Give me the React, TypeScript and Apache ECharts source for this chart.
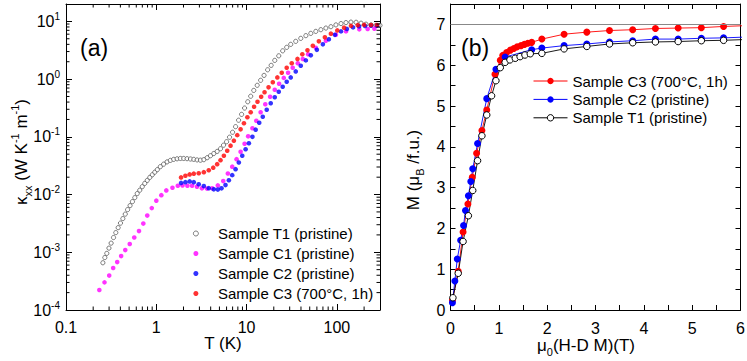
import React, { useEffect, useRef } from 'react';
import * as echarts from 'echarts';

// ---------- names ----------
const NAME_T1 = 'Sample T1 (pristine)';
const NAME_C1 = 'Sample C1 (pristine)';
const NAME_C2 = 'Sample C2 (pristine)';
const NAME_C3 = 'Sample C3 (700°C, 1h)';
const B_SUFFIX = ' [b]';

// ---------- tick labels ----------
const X_LOG_TICK_LABELS = ['0.1', '1', '10', '100'];
const Y_LOG_TICK_EXPONENTS = ['-4', '-3', '-2', '-1', '0', '1'];
const X_LIN_TICK_LABELS = ['0', '1', '2', '3', '4', '5', '6'];
const Y_LIN_TICK_LABELS = ['0', '1', '2', '3', '4', '5', '6', '7'];

// ---------- panel (a): thermal conductivity ----------
const T1_T = [0.256, 0.269, 0.283, 0.299, 0.316, 0.336, 0.356, 0.378, 0.401, 0.426, 0.453, 0.481, 0.512, 0.544, 0.578, 0.615, 0.656, 0.699, 0.745, 0.794, 0.847, 0.903, 0.962, 1.026, 1.107, 1.205, 1.315, 1.431, 1.557, 1.698, 1.849, 2.01, 2.19, 2.39, 2.6, 2.83, 3.08, 3.36, 3.66, 3.98, 4.33, 4.72, 5.14, 5.55, 6.0, 6.47, 6.99, 7.55, 8.15, 8.8, 9.5, 10.3, 11.1, 12.0, 13.1, 14.3, 15.6, 17.1, 18.7, 20.5, 22.7, 25.1, 27.8, 30.8, 35.0, 39.8, 45.3, 51.4, 58.4, 66.4, 75.5, 85.8, 97.5, 111, 126, 143, 163, 185, 210, 239, 271, 300];
const T1_K = [6.58e-4, 8.1e-4, 9.57e-4, 1.18e-3, 1.44e-3, 1.8e-3, 2.19e-3, 2.67e-3, 3.2e-3, 3.83e-3, 4.58e-3, 5.48e-3, 6.43e-3, 7.54e-3, 8.84e-3, 1.04e-2, 1.19e-2, 1.37e-2, 1.56e-2, 1.76e-2, 1.98e-2, 2.2e-2, 2.44e-2, 2.7e-2, 3.04e-2, 3.36e-2, 3.68e-2, 3.91e-2, 4.07e-2, 4.16e-2, 4.22e-2, 4.22e-2, 4.18e-2, 4.13e-2, 4.07e-2, 3.98e-2, 3.94e-2, 4.02e-2, 4.35e-2, 4.71e-2, 5.14e-2, 5.59e-2, 6.22e-2, 7.16e-2, 8.23e-2, 9.84e-2, 0.12, 0.15, 0.194, 0.245, 0.315, 0.405, 0.505, 0.637, 0.781, 0.953, 1.16, 1.45, 1.73, 2.11, 2.53, 3.09, 3.55, 4.0, 4.51, 5.08, 5.66, 6.2, 6.71, 7.18, 7.66, 8.09, 8.69, 9.16, 9.53, 9.72, 9.65, 9.31, 8.95, 8.67, 8.53, 8.53];

const C1_T = [0.234, 0.267, 0.301, 0.333, 0.369, 0.408, 0.453, 0.508, 0.57, 0.643, 0.718, 0.794, 0.891, 1.0, 1.137, 1.29, 1.51, 1.73, 1.95, 2.21, 2.49, 2.82, 3.2, 3.64, 4.16, 4.8, 5.51, 6.2, 6.93, 7.74, 8.58, 9.5, 10.4, 11.6, 12.8, 14.3, 16.1, 18.2, 20.5, 22.9, 25.8, 28.8, 32.4, 36.9, 41.9, 48, 58.4, 75.5, 97.5, 126, 177, 219, 260];
const C1_K = [2.22e-4, 3.01e-4, 3.95e-4, 5.33e-4, 6.76e-4, 8.59e-4, 1.09e-3, 1.39e-3, 1.8e-3, 2.33e-3, 3.14e-3, 4.32e-3, 5.82e-3, 7.83e-3, 9.77e-3, 1.18e-2, 1.31e-2, 1.42e-2, 1.44e-2, 1.42e-2, 1.42e-2, 1.37e-2, 1.28e-2, 1.27e-2, 1.28e-2, 1.44e-2, 1.71e-2, 2.32e-2, 3.04e-2, 4.1e-2, 5.52e-2, 7.6e-2, 0.102, 0.141, 0.19, 0.267, 0.366, 0.494, 0.653, 0.83, 1.05, 1.29, 1.57, 1.88, 2.24, 2.69, 3.48, 4.6, 5.84, 6.71, 7.28, 7.37, 7.48];

const C2_T = [1.88, 2.1, 2.34, 2.6, 2.95, 3.36, 3.81, 4.33, 4.8, 5.27, 5.84, 6.36, 6.93, 7.55, 8.2, 8.95, 9.75, 10.6, 11.6, 12.6, 13.8, 15.1, 16.7, 18.5, 20.5, 22.7, 25.1, 27.8, 30.8, 35, 39.8, 45.3, 51.4, 60, 69.9, 81.5, 95, 111, 129, 151, 176, 205, 239, 278];
const C2_K = [1.59e-2, 1.64e-2, 1.69e-2, 1.64e-2, 1.51e-2, 1.4e-2, 1.29e-2, 1.23e-2, 1.22e-2, 1.28e-2, 1.46e-2, 1.77e-2, 2.17e-2, 2.75e-2, 3.59e-2, 4.71e-2, 6.1e-2, 7.74e-2, 0.1, 0.133, 0.175, 0.223, 0.294, 0.381, 0.484, 0.603, 0.736, 0.898, 1.07, 1.36, 1.7, 2.11, 2.58, 3.21, 4.0, 4.89, 5.84, 6.71, 7.41, 7.87, 8.19, 8.35, 8.4, 8.4];

const C3_T = [1.88, 2.1, 2.34, 2.6, 2.95, 3.36, 3.81, 4.27, 4.72, 5.14, 5.6, 6.1, 6.64, 7.23, 7.88, 8.58, 9.34, 10.2, 11.1, 12.1, 13.2, 14.5, 15.8, 17.5, 19.5, 21.9, 24.5, 27.8, 31.6, 36.6, 41.4, 47.2, 54.1, 63.1, 73.6, 85.8, 101, 120, 143, 170, 200, 239, 278];
const C3_K = [1.98e-2, 2.12e-2, 2.23e-2, 2.3e-2, 2.34e-2, 2.44e-2, 2.64e-2, 2.92e-2, 3.36e-2, 3.94e-2, 4.71e-2, 5.75e-2, 7.02e-2, 8.57e-2, 0.107, 0.135, 0.172, 0.218, 0.267, 0.332, 0.405, 0.494, 0.591, 0.721, 0.881, 1.07, 1.29, 1.57, 1.88, 2.24, 2.69, 3.15, 3.77, 4.51, 5.29, 6.12, 6.98, 7.78, 8.36, 8.6, 8.7, 8.65, 8.66];

// ---------- panel (b): magnetization ----------
const MC3_H = [0.04, 0.16, 0.26, 0.36, 0.45, 0.54, 0.65, 0.75, 0.92, 1.03, 1.08, 1.16, 1.24, 1.31, 1.38, 1.46, 1.53, 1.6, 1.68, 1.89, 2.35, 2.82, 3.29, 3.77, 4.24, 4.71, 5.19, 5.65, 6.12];
const MC3_M = [0.24, 0.95, 1.91, 2.6, 3.25, 3.84, 4.4, 4.9, 5.78, 6.12, 6.24, 6.31, 6.37, 6.41, 6.45, 6.48, 6.51, 6.54, 6.56, 6.64, 6.76, 6.81, 6.85, 6.87, 6.9, 6.91, 6.92, 6.95, 6.97];

const MC2_H = [0.04, 0.09, 0.14, 0.21, 0.27, 0.31, 0.37, 0.42, 0.46, 0.56, 0.75, 0.94, 1.13, 1.68, 1.89, 2.35, 2.82, 3.29, 3.77, 4.24, 4.71, 5.19, 5.65, 6.12];
const MC2_M = [0.18, 0.71, 1.25, 1.71, 2.07, 2.44, 2.8, 3.15, 3.46, 4.08, 5.18, 5.9, 6.2, 6.38, 6.42, 6.48, 6.52, 6.57, 6.6, 6.64, 6.64, 6.66, 6.67, 6.69];

const MT1_H = [0.05, 0.16, 0.26, 0.37, 0.46, 0.56, 0.65, 0.75, 0.85, 0.94, 1.03, 1.13, 1.23, 1.34, 1.44, 1.54, 1.65, 1.89, 2.35, 2.82, 3.29, 3.77, 4.24, 4.71, 5.19, 5.65, 6.12];
const MT1_M = [0.3, 0.9, 1.68, 2.31, 2.93, 3.66, 4.27, 4.78, 5.25, 5.62, 5.94, 6.07, 6.13, 6.17, 6.21, 6.25, 6.28, 6.29, 6.4, 6.46, 6.52, 6.55, 6.57, 6.58, 6.6, 6.61, 6.63];
const SATURATION_LINE = 7;

// ---------- axis ranges ----------
const LOG_X_MIN = 0.1;
const LOG_X_MAX = 300;
const LOG_Y_MIN = 1e-4;
const LOG_Y_MAX = 20;

const FONT = "'Liberation Sans', Arial, Helvetica, sans-serif";
const MAJOR_LEN = 6;
const MINOR_LEN = 3.5;
const TICK_FS = 16;

const zip = (xs: number[], ys: number[]) => xs.map((x, i) => [x, ys[i]]);

function decadeIndex(v: number, offset: number) {
  const e = Math.log10(v);
  const r = Math.round(e);
  if (Math.abs(e - r) > 1e-6) return -1;
  return r + offset;
}
function intIndex(v: number) {
  const r = Math.round(v);
  return Math.abs(v - r) < 1e-9 ? r : -1;
}

function minorLogValues(lo: number, hi: number) {
  const out: number[] = [];
  for (let d = lo; d < hi; d *= 10) {
    for (let m = 2; m <= 9; m++) {
      const v = +(m * d).toPrecision(6);
      if (v < hi) out.push(v);
    }
  }
  return out;
}

export default function App() {
  const ref = useRef<HTMLDivElement>(null);

  useEffect(() => {
    if (!ref.current) return;
    const chart = echarts.init(ref.current, undefined, { renderer: 'svg' });

    const axisLine = { show: true, onZero: false, lineStyle: { color: '#000', width: 1 } };
    const tickStyle = { inside: true, length: MAJOR_LEN, lineStyle: { color: '#000', width: 1 } };
    const labelBase = { color: '#000', fontFamily: FONT, fontSize: TICK_FS };
    const nameStyleBase = { color: '#000', fontFamily: FONT, fontSize: 17 };

    const richName = {
      n: { fontSize: 17, fontFamily: FONT, color: '#000', lineHeight: 24, verticalAlign: 'middle' },
      sub: { fontSize: 11, fontFamily: FONT, color: '#000', lineHeight: 13, verticalAlign: 'bottom' },
      sup: { fontSize: 11, fontFamily: FONT, color: '#000', lineHeight: 11, verticalAlign: 'top' },
    };

    const minorX = minorLogValues(LOG_X_MIN, LOG_X_MAX);
    const minorY = minorLogValues(LOG_Y_MIN, LOG_Y_MAX);

    const option: any = {
      animation: false,
      backgroundColor: '#fff',
      textStyle: { fontFamily: FONT },
      grid: [
        { left: 66, top: 4, width: 314, height: 306, outerBoundsMode: 'none', containLabel: false },
        { left: 450.5, top: 4, width: 290, height: 306, outerBoundsMode: 'none', containLabel: false },
      ],
      xAxis: [
        {
          gridIndex: 0, type: 'log', logBase: 10, min: LOG_X_MIN, max: LOG_X_MAX, position: 'bottom',
          axisLine, axisTick: tickStyle, splitLine: { show: false },
          axisLabel: {
            ...labelBase, margin: 9, showMinLabel: true, showMaxLabel: true,
            formatter: (v: number) => { const i = decadeIndex(v, 1); return i >= 0 && i < X_LOG_TICK_LABELS.length ? X_LOG_TICK_LABELS[i] : ''; },
          },
          name: 'T (K)', nameLocation: 'middle', nameGap: 21, nameMoveOverlap: false,
          nameTextStyle: { ...nameStyleBase, lineHeight: 24 },
        },
        {
          gridIndex: 0, type: 'log', logBase: 10, min: LOG_X_MIN, max: LOG_X_MAX, position: 'top',
          axisLine, axisTick: tickStyle, splitLine: { show: false }, axisLabel: { show: false },
        },
        {
          gridIndex: 1, type: 'value', min: 0, max: 6, interval: 0.5, position: 'bottom',
          axisLine, axisTick: { ...tickStyle, length: 5 }, splitLine: { show: false },
          axisLabel: {
            ...labelBase, margin: 10, showMinLabel: true, showMaxLabel: true,
            formatter: (v: number) => { const i = intIndex(v); return i >= 0 && i < X_LIN_TICK_LABELS.length ? X_LIN_TICK_LABELS[i] : ''; },
          },
          name: '{n|μ}{sub|0}{n|(H-D M)(T)}', nameLocation: 'middle', nameGap: 23, nameMoveOverlap: false,
          nameTextStyle: { ...nameStyleBase, rich: richName, padding: [0, 19, 0, 0] },
        },
        {
          gridIndex: 1, type: 'value', min: 0, max: 6, interval: 0.5, position: 'top',
          axisLine, axisTick: { ...tickStyle, length: 5 }, splitLine: { show: false }, axisLabel: { show: false },
        },
      ],
      yAxis: [
        {
          gridIndex: 0, type: 'log', logBase: 10, min: LOG_Y_MIN, max: LOG_Y_MAX, position: 'left',
          axisLine, axisTick: tickStyle, splitLine: { show: false },
          axisLabel: {
            ...labelBase, margin: 6, showMinLabel: true, showMaxLabel: true,
            formatter: (v: number) => {
              const i = decadeIndex(v, 4);
              return i >= 0 && i < Y_LOG_TICK_EXPONENTS.length ? `{b|10}{s|${Y_LOG_TICK_EXPONENTS[i]}}` : '';
            },
            rich: {
              b: { fontSize: TICK_FS, fontFamily: FONT, color: '#000', lineHeight: 20, verticalAlign: 'middle' },
              s: { fontSize: 10, fontFamily: FONT, color: '#000', lineHeight: 10, verticalAlign: 'top' },
            },
          },
          name: '{n|κ}{sub|xx}{n| (W K}{sup|-1}{n| m}{sup|-1}{n|)}', nameLocation: 'middle', nameGap: 33, nameMoveOverlap: false,
          nameTextStyle: { ...nameStyleBase, rich: richName, padding: [0, 0, 0, 10] },
        },
        {
          gridIndex: 0, type: 'log', logBase: 10, min: LOG_Y_MIN, max: LOG_Y_MAX, position: 'right',
          axisLine, axisTick: tickStyle, splitLine: { show: false }, axisLabel: { show: false },
        },
        {
          gridIndex: 1, type: 'value', min: 0, max: 7.5, interval: 0.5, position: 'left',
          axisLine, axisTick: { ...tickStyle, length: 5 }, splitLine: { show: false },
          axisLabel: {
            ...labelBase, margin: 5, showMinLabel: true, showMaxLabel: true,
            formatter: (v: number) => { const i = intIndex(v); return i >= 0 && i < Y_LIN_TICK_LABELS.length ? Y_LIN_TICK_LABELS[i] : ''; },
          },
          name: '{n|M (μ}{sub|B}{n| /f.u.)}', nameLocation: 'middle', nameGap: 25, nameMoveOverlap: false,
          nameTextStyle: { ...nameStyleBase, rich: richName, padding: [0, 26, 0, 0] },
        },
        {
          gridIndex: 1, type: 'value', min: 0, max: 7.5, interval: 0.5, position: 'right',
          axisLine, axisTick: { ...tickStyle, length: 5 }, splitLine: { show: false }, axisLabel: { show: false },
        },
      ],
      legend: [
        {
          left: 188, top: 221, orient: 'vertical', itemWidth: 34, itemHeight: 5, itemGap: 5,
          selectedMode: false,
          textStyle: { fontSize: 15, color: '#000', fontFamily: FONT },
          data: [
            { name: NAME_T1, icon: 'circle', itemStyle: { color: '#fff', borderColor: '#333', borderWidth: 0.8 } },
            { name: NAME_C1, icon: 'circle' },
            { name: NAME_C2, icon: 'circle' },
            { name: NAME_C3, icon: 'circle' },
          ],
        },
        {
          left: 528, top: 68.5, orient: 'vertical', itemWidth: 34, itemHeight: 8, itemGap: 3.4,
          selectedMode: false,
          textStyle: { fontSize: 15, color: '#000', fontFamily: FONT },
          lineStyle: { width: 1 },
          formatter: (n: string) => n.replace(B_SUFFIX, ''),
          data: [
            { name: NAME_C3 + B_SUFFIX },
            { name: NAME_C2 + B_SUFFIX },
            { name: NAME_T1 + B_SUFFIX, itemStyle: { color: '#fff', borderColor: '#000', borderWidth: 1 } },
          ],
        },
      ],
      graphic: [
        { type: 'text', left: 80, top: 36, style: { text: '(a)', fontSize: 23, fontFamily: FONT, fill: '#000' } },
        { type: 'text', left: 461, top: 36, style: { text: '(b)', fontSize: 23, fontFamily: FONT, fill: '#000' } },
      ],
      series: [
        {
          name: NAME_T1, type: 'scatter', xAxisIndex: 0, yAxisIndex: 0, symbol: 'circle', symbolSize: 4.2,
          itemStyle: { color: '#fff', borderColor: '#333', borderWidth: 0.8 },
          data: zip(T1_T, T1_K), emphasis: { disabled: true },
        },
        {
          name: NAME_C1, type: 'scatter', xAxisIndex: 0, yAxisIndex: 0, symbol: 'circle', symbolSize: 4.6,
          itemStyle: { color: '#ff00ff' }, data: zip(C1_T, C1_K), emphasis: { disabled: true },
        },
        {
          name: NAME_C2, type: 'scatter', xAxisIndex: 0, yAxisIndex: 0, symbol: 'circle', symbolSize: 4.6,
          itemStyle: { color: '#0000ff' }, data: zip(C2_T, C2_K), emphasis: { disabled: true },
        },
        {
          name: NAME_C3, type: 'scatter', xAxisIndex: 0, yAxisIndex: 0, symbol: 'circle', symbolSize: 4.6,
          itemStyle: { color: '#ff0000' }, data: zip(C3_T, C3_K), emphasis: { disabled: true },
        },
        {
          type: 'custom', xAxisIndex: 0, yAxisIndex: 0, silent: true, z: 5,
          data: minorX.map((v) => [v, LOG_Y_MIN]),
          encode: { x: 0, y: 1 },
          renderItem: (_p: any, api: any) => {
            const v = api.value(0);
            const b = api.coord([v, LOG_Y_MIN]);
            const t = api.coord([v, LOG_Y_MAX]);
            const st = { stroke: '#000', lineWidth: 1 };
            return {
              type: 'group', children: [
                { type: 'line', shape: { x1: b[0], y1: b[1], x2: b[0], y2: b[1] - MINOR_LEN }, style: st },
                { type: 'line', shape: { x1: t[0], y1: t[1], x2: t[0], y2: t[1] + MINOR_LEN }, style: st },
              ],
            };
          },
        },
        {
          type: 'custom', xAxisIndex: 0, yAxisIndex: 0, silent: true, z: 5,
          data: minorY.map((v) => [LOG_X_MIN, v]),
          encode: { x: 0, y: 1 },
          renderItem: (_p: any, api: any) => {
            const v = api.value(1);
            const l = api.coord([LOG_X_MIN, v]);
            const r = api.coord([LOG_X_MAX, v]);
            const st = { stroke: '#000', lineWidth: 1 };
            return {
              type: 'group', children: [
                { type: 'line', shape: { x1: l[0], y1: l[1], x2: l[0] + MINOR_LEN, y2: l[1] }, style: st },
                { type: 'line', shape: { x1: r[0], y1: r[1], x2: r[0] - MINOR_LEN, y2: r[1] }, style: st },
              ],
            };
          },
        },
        {
          name: NAME_C3 + B_SUFFIX, type: 'line', xAxisIndex: 2, yAxisIndex: 2, symbol: 'circle', symbolSize: 7,
          itemStyle: { color: '#ff0000' }, lineStyle: { color: '#ff0000', width: 0.9 },
          data: zip(MC3_H, MC3_M), emphasis: { disabled: true },
          markLine: {
            silent: true, symbol: 'none', label: { show: false },
            lineStyle: { color: '#888', width: 1, type: 'solid' },
            data: [{ yAxis: SATURATION_LINE }],
          },
        },
        {
          name: NAME_C2 + B_SUFFIX, type: 'line', xAxisIndex: 2, yAxisIndex: 2, symbol: 'circle', symbolSize: 7,
          itemStyle: { color: '#0000ff' }, lineStyle: { color: '#0000ff', width: 0.9 },
          data: zip(MC2_H, MC2_M), emphasis: { disabled: true },
        },
        {
          name: NAME_T1 + B_SUFFIX, type: 'line', xAxisIndex: 2, yAxisIndex: 2, symbol: 'circle', symbolSize: 6.5,
          itemStyle: { color: '#fff', borderColor: '#000', borderWidth: 1 }, lineStyle: { color: '#000', width: 0.9 },
          data: zip(MT1_H, MT1_M), emphasis: { disabled: true },
        },
      ],
    };

    chart.setOption(option);
    return () => chart.dispose();
  }, []);

  return (
    <div
      ref={ref}
      style={{ position: 'absolute', left: 0, top: 0, width: 747, height: 361, background: '#fff' }}
    />
  );
}
